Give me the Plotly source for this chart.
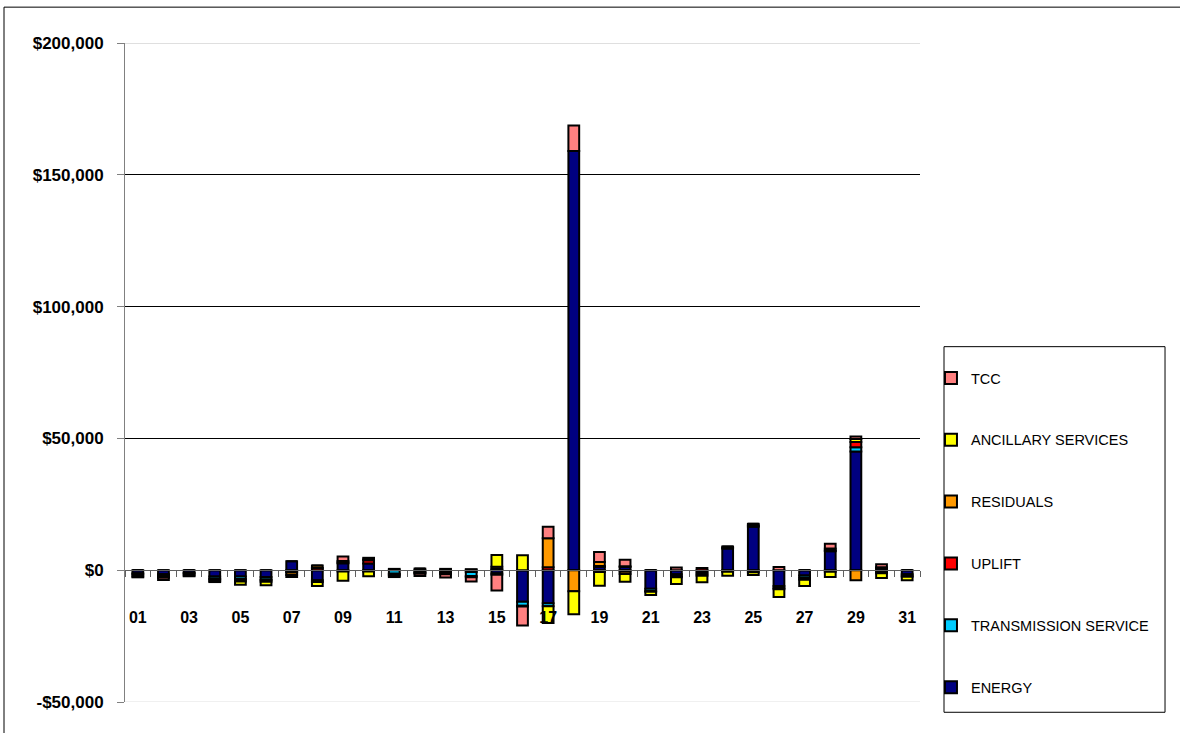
import plotly.graph_objects as go

days = list(range(1, 32))
day_labels = [f"{d:02d}" for d in days]

energy = [-1200, -1500, -1000, -2400, -2400, -2600, 3400, -3800, 2600, 2500,
          500, 600, 500, -700, -1200, -12000, -12500, 159000, 1200, 1200,
          -7000, -1500, -800, 8200, 16500, -6000, -2000, 7200, 45000, 800, -1500]
transmission = [-400, -500, -300, -800, -900, -900, -600, -700, -500, -500,
                -1300, -700, -700, -1500, -500, -1500, -1200, 0, -700, -600,
                -900, -800, -700, -600, -800, -800, -900, -600, 1600, -600, -600]
uplift = [0, 0, 0, -300, -300, -300, -300, 800, 300, 1300,
          -300, 0, 0, 0, 500, 0, 1100, 0, 400, 300,
          0, 0, 800, 400, 500, 0, 0, 300, 2000, 300, 0]
residuals = [-800, -500, -700, -700, -700, -600, -900, 1000, 600, 300,
             -500, -300, -300, 400, 800, -300, 11000, -8000, 1500, -800,
             -300, -400, -600, 400, 600, -400, -700, 700, -3800, -600, -400]
ancillary = [-300, -400, -300, -300, -1200, -1300, -800, -1500, -3500, -1800,
             -500, -300, -500, -500, 4500, 5700, -6300, -8700, -5200, -3000,
             -1200, -2500, -2500, -1500, -1000, -3000, -2400, -2000, 1200, -1800, -1300]
tcc = [0, -800, 0, 0, 0, 0, 0, 0, 1700, 600,
       0, -900, -1300, -1600, -6000, -7200, 4400, 9700, 3800, 2500,
       0, 1000, 0, 0, 0, 1200, 0, 1800, 900, 1200, 0]

series = [
    ("ENERGY", energy, "#000080"),
    ("TRANSMISSION SERVICE", transmission, "#00CCFF"),
    ("UPLIFT", uplift, "#FF0000"),
    ("RESIDUALS", residuals, "#FF9900"),
    ("ANCILLARY SERVICES", ancillary, "#FFFF00"),
    ("TCC", tcc, "#FF8080"),
]

y_tickvals = [-50000, 0, 50000, 100000, 150000, 200000]
y_ticktext = ["-$50,000", "$0", "$50,000", "$100,000", "$150,000", "$200,000"]

FONT = "Liberation Sans, Arial, sans-serif"

fig = go.Figure()
n = len(series)
for i, (name, vals, color) in enumerate(series):
    fig.add_trace(go.Bar(
        x=days, y=vals, name=name, width=0.42,
        marker=dict(color=color, line=dict(color="black", width=2)),
        legendgroup=name, legendrank=n - i,
    ))

ymin, ymax = -50000, 200000
zero_pos = (0 - ymin) / (ymax - ymin)

fig.update_layout(
    width=1180, height=733,
    barmode="relative",
    paper_bgcolor="white", plot_bgcolor="white",
    margin=dict(l=125, r=260, t=43, b=31, autoexpand=False),
    font=dict(family=FONT, color="black"),
    showlegend=True,
    legend=dict(
        x=1.0138, y=0.516, xanchor="left", yanchor="top",
        traceorder="grouped", tracegroupgap=40,
        font=dict(family=FONT, size=14.5, color="black"),
        bgcolor="rgba(0,0,0,0)", borderwidth=0,
    ),
    xaxis=dict(
        range=[0.5, 31.5],
        anchor="free", position=zero_pos,
        showline=True, linecolor="#606060", linewidth=1,
        showgrid=False, zeroline=False,
        tickmode="array", tickvals=days[::2], ticktext=day_labels[::2],
        ticks="", ticklabelstandoff=33,
        tickfont=dict(family=FONT, size=16, color="black", weight="bold"),
        minor=dict(tickmode="array", tickvals=[d + 0.5 for d in range(0, 32)],
                   ticks="outside", ticklen=6, tickcolor="#606060", tickwidth=1,
                   showgrid=False),
        layer="above traces",
    ),
    yaxis=dict(
        range=[ymin, ymax],
        tickmode="array", tickvals=y_tickvals, ticktext=y_ticktext,
        showline=True, linecolor="#808080", linewidth=1,
        ticks="outside", ticklen=7, tickcolor="#808080",
        showgrid=True, gridcolor="black", gridwidth=1,
        zeroline=False,
        ticklabelstandoff=10,
        tickfont=dict(family=FONT, size=17, color="black", weight="bold"),
    ),
    shapes=[
        dict(type="line", xref="paper", yref="y", x0=0, x1=1, y0=200000, y1=200000,
             line=dict(color="#C0C0C0", width=1), layer="above"),
        dict(type="line", xref="paper", yref="y", x0=0, x1=1, y0=-50000, y1=-50000,
             line=dict(color="#E0E0E0", width=1), layer="above"),
        dict(type="rect", xref="paper", yref="paper", x0=1.0302, x1=1.3082,
             y0=-0.0156, y1=0.5392, line=dict(color="black", width=1),
             fillcolor="rgba(0,0,0,0)", layer="above"),
        dict(type="rect", xref="paper", yref="paper", x0=-0.1522, x1=1.5,
             y0=-0.2, y1=1.0544, line=dict(color="black", width=1),
             fillcolor="rgba(0,0,0,0)", layer="above"),
    ],
)

fig.write_html("out.html",
               config={"displayModeBar": False},
               post_script="document.body.style.margin='0';document.body.style.overflow='hidden';")
